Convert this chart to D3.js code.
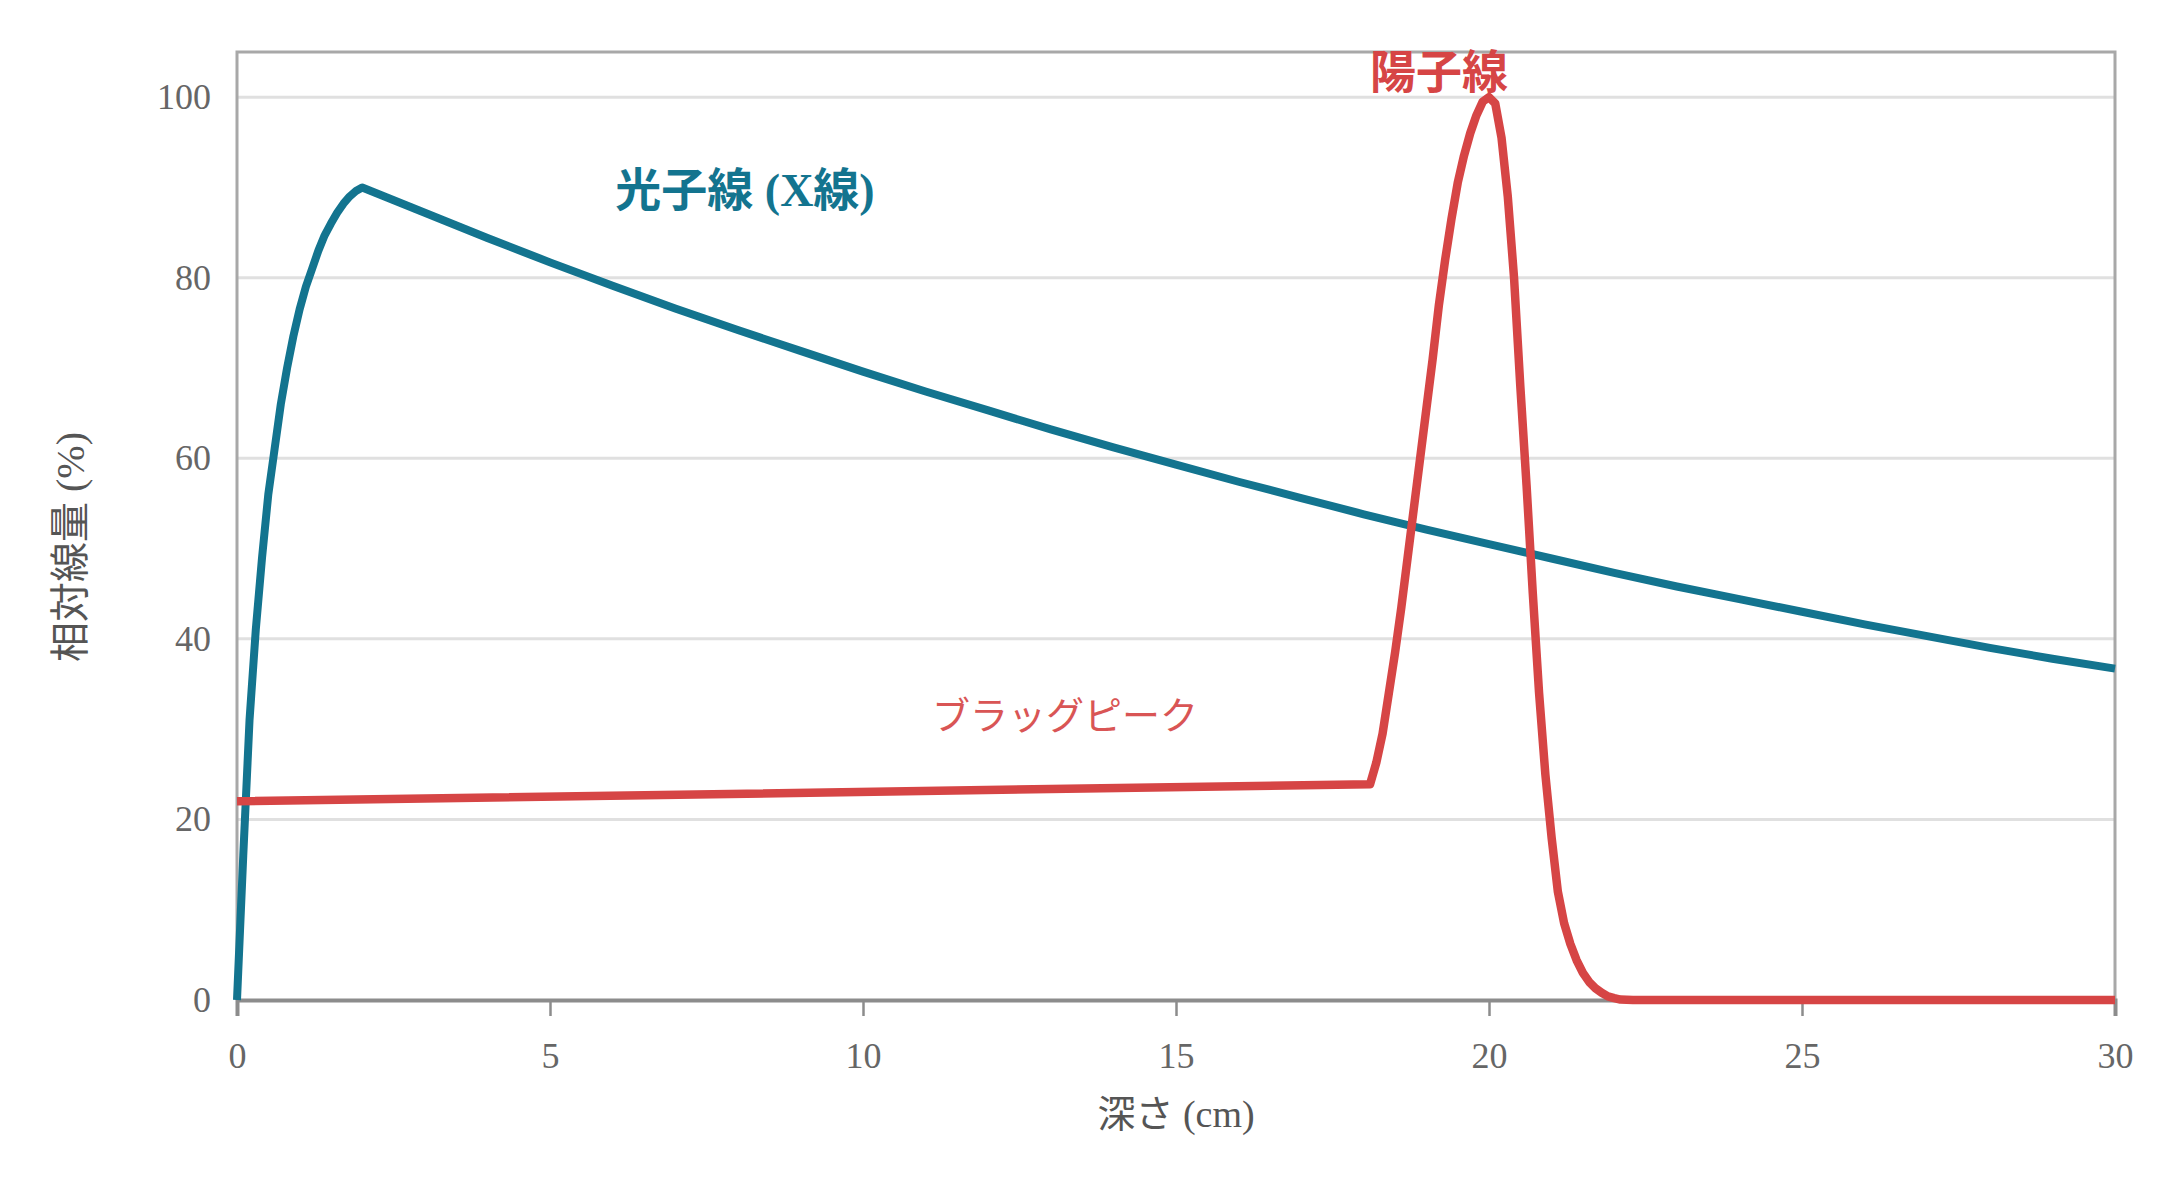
<!DOCTYPE html>
<html><head><meta charset="utf-8">
<script src="https://cdn.jsdelivr.net/npm/d3@7"></script>
<style>body{margin:0;background:#fff}svg{display:block}</style>
</head><body>
<script>
// ---- data ----
const xTicks = [0,5,10,15,20,25,30];
const yTicks = [0,20,40,60,80,100];
const photonDepth = [0,0.1,0.2,0.3,0.4,0.5,0.6,0.7,0.8,0.9,1.0,1.1,1.2,1.3,1.4,1.5,1.6,1.7,1.8,1.9,2,3,4,5,6,7,8,9,10,11,12,13,14,15,16,17,18,19,20,21,22,23,24,25,26,27,28,29,30];
const photonDose  = [0,16,31,41,49,56,61,66,70,73.5,76.5,79,81,83,84.7,86,87.2,88.2,89,89.6,90,87.2,84.4,81.7,79.1,76.6,74.2,71.9,69.6,67.4,65.3,63.2,61.2,59.3,57.4,55.6,53.8,52.1,50.5,48.9,47.3,45.8,44.4,43.0,41.6,40.3,39.0,37.8,36.7];
const protonDepth = [0,18.1,18.2,18.3,18.4,18.5,18.6,18.7,18.8,18.9,19.0,19.1,19.2,19.3,19.4,19.5,19.6,19.7,19.8,19.9,20.0,20.1,20.2,20.3,20.4,20.5,20.6,20.7,20.8,20.9,21.0,21.1,21.2,21.3,21.4,21.5,21.6,21.7,21.8,21.9,22.0,22.1,22.3,30];
const protonDose  = [22.0,23.9,26.3,29.5,34,38.5,43.5,49,54.5,60,65.5,71,77,82,86.5,90.5,93.5,96,98,99.5,100,99.3,95.5,89,80,68,57,45,34,25,18,12,8.5,6.2,4.4,3.0,2.0,1.3,0.8,0.4,0.2,0.05,0,0];
const labels = {
  photon: "光子線 (X線)",
  proton: "陽子線",
  bragg: "ブラッグピーク",
  xTitle: "深さ (cm)",
  yTitle: "相対線量 (%)"
};

// ---- layout ----
const W = 2182, H = 1183;
const m = {left:237, right:67, top:52, bottom:183};
const FONT = '"Liberation Serif","Noto Sans CJK JP",serif';

const svg = d3.select("body").append("svg").attr("width",W).attr("height",H)
  .style("font-family",FONT);

const x = d3.scaleLinear().domain([0,30]).range([m.left, W-m.right]);
const y = d3.scaleLinear().domain([0,105]).range([H-m.bottom, m.top]);

// gridlines
svg.append("g").selectAll("line").data(yTicks.filter(d=>d>0)).join("line")
  .attr("x1",x(0)).attr("x2",x(30)).attr("y1",d=>y(d)).attr("y2",d=>y(d))
  .attr("stroke","#e0e0e0").attr("stroke-width",3);

// frame
svg.append("path")
  .attr("d",`M${x(0)},${y(0)}V${y(105)}H${x(30)}V${y(0)}`)
  .attr("fill","none").attr("stroke","#a8a8a8").attr("stroke-width",3);

// x axis
const xAxis = svg.append("g").attr("transform",`translate(0,${y(0)})`)
  .call(d3.axisBottom(x).tickValues(xTicks).tickSize(16).tickPadding(26).tickFormat(d3.format("d")));
xAxis.select(".domain").attr("stroke","#8c8c8c").attr("stroke-width",4);
xAxis.selectAll(".tick line").attr("stroke","#8c8c8c").attr("stroke-width",2.5);
xAxis.selectAll("text").attr("fill","#666").style("font-size","36px").style("font-family",FONT);

// y axis
const yAxis = svg.append("g").attr("transform",`translate(${x(0)},0)`)
  .call(d3.axisLeft(y).tickValues(yTicks).tickSize(0).tickPadding(26).tickFormat(d3.format("d")));
yAxis.select(".domain").remove();
yAxis.selectAll("text").attr("fill","#666").style("font-size","36px").style("font-family",FONT);

// lines
const line = d3.line().x(d=>x(d[0])).y(d=>y(d[1])).curve(d3.curveLinear);
const photon = photonDepth.map((d,i)=>[d,photonDose[i]]);
const proton = protonDepth.map((d,i)=>[d,protonDose[i]]);

svg.append("path").datum(photon).attr("d",line)
  .attr("fill","none").attr("stroke","#13748f").attr("stroke-width",8)
  .attr("stroke-linejoin","round");
svg.append("path").datum(proton).attr("d",line)
  .attr("fill","none").attr("stroke","#d64545").attr("stroke-width",8.5)
  .attr("stroke-linejoin","round");

// labels
svg.append("text").attr("x",745).attr("y",206).attr("text-anchor","middle")
  .attr("fill","#13748f").style("font-size","46px").style("font-weight","bold").text(labels.photon);
svg.append("text").attr("x",1439).attr("y",88).attr("text-anchor","middle")
  .attr("fill","#d64545").style("font-size","46px").style("font-weight","bold").text(labels.proton);
svg.append("text").attr("x",1065).attr("y",729).attr("text-anchor","middle")
  .attr("fill","#d95555").style("font-size","38px").text(labels.bragg);

// axis titles
svg.append("text").attr("x",x(15)).attr("y",1127).attr("text-anchor","middle")
  .attr("fill","#555").style("font-size","38px").text(labels.xTitle);
svg.append("text").attr("transform","translate(84,547) rotate(-90)").attr("text-anchor","middle")
  .attr("fill","#555").style("font-size","40px").text(labels.yTitle);
</script>
</body></html>
